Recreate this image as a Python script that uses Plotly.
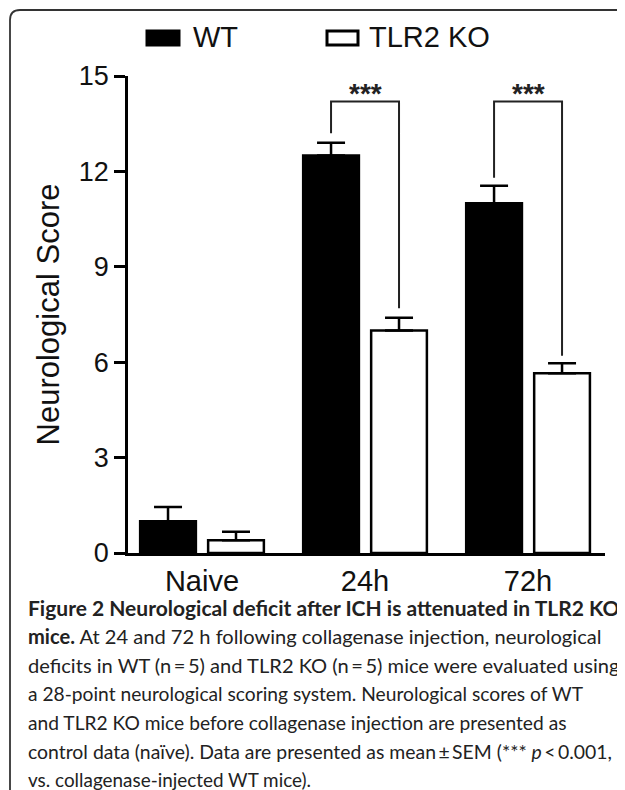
import plotly.graph_objects as go

categories = ["Naive", "24h", "72h"]
wt_mean = [1.0, 12.5, 11.0]
wt_sem = [0.45, 0.4, 0.55]
ko_mean = [0.4, 7.0, 5.65]
ko_sem = [0.27, 0.4, 0.32]
y_ticks = [0, 3, 6, 9, 12, 15]

# significance brackets (category index, top, left-leg bottom, right-leg bottom)
sig_cat = [1, 2]
sig_top = [14.2, 14.2]
sig_left_bottom = [13.2, 11.8]
sig_right_bottom = [7.7, 6.2]
sig_text = ["***", "***"]

caption_lines = [
    "<b>Figure 2 Neurological deficit after ICH is attenuated in TLR2 KO</b>",
    "<b>mice.</b> At 24 and 72 h following collagenase injection, neurological",
    "deficits in WT (n\u2009=\u20095) and TLR2 KO (n\u2009=\u20095) mice were evaluated using",
    "a 28-point neurological scoring system. Neurological scores of WT",
    "and TLR2 KO mice before collagenase injection are presented as",
    "control data (na\u00efve). Data are presented as mean\u2009\u00b1\u2009SEM (*** <i>p</i>\u2009<\u20090.001,",
    "vs. collagenase-injected WT mice).",
]
caption_sizes = [21, 20.1, 20.1, 19.2, 19.2, 19.4, 18.9]

# the page body adds an 8 px offset; lay out in reference pixels, shifted
OFF = 8
W, H = 625 - OFF, 790 - OFF
X0, X1, Y0, Y1 = 128, 605, 76, 553          # plot area in reference pixels
L, R, T, B = X0 - OFF, W - (X1 - OFF), Y0 - OFF, H - (Y1 - OFF)
PW, PH = X1 - X0, Y1 - Y0

def px(x):
    return (x - X0) / PW

def py(y):
    return (Y1 - y) / PH

BARGAP = 0.166
BARGROUPGAP = 0.18
slot = (1 - BARGAP) / 2
xi = list(range(len(categories)))

fig = go.Figure()
fig.add_trace(go.Bar(
    x=xi, y=wt_mean, name="WT",
    marker=dict(color="black", line=dict(color="black", width=2.5)),
    error_y=dict(type="data", symmetric=False, array=wt_sem,
                 arrayminus=[0] * len(wt_sem), color="black",
                 thickness=2.5, width=14),
))
fig.add_trace(go.Bar(
    x=xi, y=ko_mean, name="TLR2 KO",
    marker=dict(color="white", line=dict(color="black", width=2.5)),
    error_y=dict(type="data", symmetric=False, array=ko_sem,
                 arrayminus=[0] * len(ko_sem), color="black",
                 thickness=2.5, width=14),
))

for c, top, lb, rb, txt in zip(sig_cat, sig_top, sig_left_bottom, sig_right_bottom, sig_text):
    xl = c - slot / 2
    xr = c + slot / 2
    fig.add_trace(go.Scatter(
        x=[xl, xl, xr, xr], y=[lb, top, top, rb], mode="lines",
        line=dict(color="#222", width=2), hoverinfo="skip", showlegend=False,
    ))
    fig.add_annotation(x=c, y=top, text=f"<b>{txt}</b>", showarrow=False, yanchor="bottom",
                       xanchor="center", yshift=-10,
                       font=dict(family="Liberation Sans, Arial", size=28, color="#222"))

# legend (manual)
legend_items = [("WT", "black", 147, 179, 191), ("TLR2 KO", "white", 327, 358, 367)]
for name, fill, x0, x1, tx in legend_items:
    fig.add_shape(type="rect", xref="paper", yref="paper",
                  x0=px(x0), x1=px(x1), y0=py(45), y1=py(31),
                  fillcolor=fill, line=dict(color="black", width=3), layer="above")
    fig.add_annotation(xref="paper", yref="paper", x=px(tx), y=py(37), text=name,
                       showarrow=False, xanchor="left", yanchor="middle",
                       font=dict(family="Liberation Sans, Arial", size=29, color="#111"))

# frame
fx0, fy0, r = 10, 10, 10
fig.add_shape(type="path", xref="paper", yref="paper",
              path=(f"M {px(fx0)} {py(800)} L {px(fx0)} {py(fy0 + r)} "
                    f"Q {px(fx0)} {py(fy0)} {px(fx0 + r)} {py(fy0)} "
                    f"L {px(640)} {py(fy0)}"),
              line=dict(color="#333", width=1.8), layer="above")

# caption
for i, (line, sz) in enumerate(zip(caption_lines, caption_sizes)):
    fig.add_annotation(xref="paper", yref="paper", x=px(26), y=py(607 + 28.8 * i),
                       text=line, showarrow=False, xanchor="left", yanchor="middle",
                       font=dict(family="Lato", size=sz, color="#222"))

fig.update_layout(
    width=W, height=H,
    margin=dict(l=L, r=R, t=T, b=B, autoexpand=False),
    paper_bgcolor="white", plot_bgcolor="white",
    barmode="group", bargap=BARGAP, bargroupgap=BARGROUPGAP,
    showlegend=False,
    font=dict(family="Liberation Sans, Arial", color="#111"),
)
fig.update_xaxes(
    range=[-0.454, 2.472], tickvals=xi, ticktext=categories,
    showline=True, linecolor="black", linewidth=2.5, ticks="",
    showgrid=False, zeroline=False, tickfont=dict(size=29),
)
fig.update_yaxes(
    range=[0, 15], tickvals=y_ticks, showline=True, linecolor="black",
    linewidth=2.5, ticks="outside", ticklen=11, tickwidth=2.5, tickcolor="black",
    showgrid=False, zeroline=False, tickfont=dict(size=27),
    title=dict(text="Neurological Score", font=dict(size=31), standoff=10),
)

fig.write_html("out.html")
